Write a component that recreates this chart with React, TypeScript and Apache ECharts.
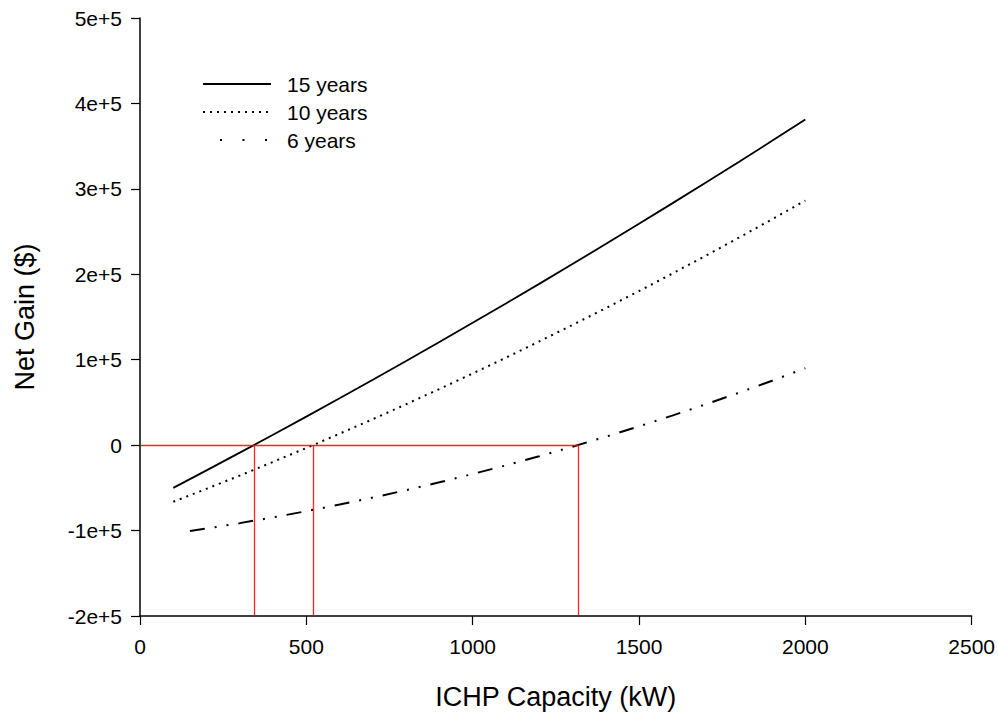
import React, { useEffect, useRef } from "react";
import * as echarts from "echarts";

const capacity = [100, 200, 300, 400, 500, 600, 700, 800, 900, 1000, 1100, 1200, 1300, 1400, 1500, 1600, 1700, 1800, 1900, 2000];
const gain15 = [-50000, -29500, -8800, 12200, 33400, 54900, 76600, 98600, 120800, 143200, 165900, 188800, 212000, 235400, 259100, 283000, 307100, 331500, 356200, 381100];
const gain10 = [-66300, -51100, -35600, -19600, -3300, 13400, 30400, 47900, 65700, 83900, 102400, 121400, 140700, 160300, 180400, 200800, 221600, 242800, 264400, 286300];
const capacity6 = [150, 200, 300, 400, 500, 600, 700, 800, 900, 1000, 1100, 1200, 1300, 1400, 1500, 1600, 1700, 1800, 1900, 2000];
const gain6 = [-100500, -97600, -91300, -84600, -77300, -69600, -61400, -52700, -43500, -33800, -23700, -13000, -1800, 9800, 22000, 34600, 47700, 61300, 75400, 90000];
const breakEven = [342, 520, 1316];
const seriesNames = ["15 years", "10 years", "6 years"];

const FONT = "Liberation Sans, Arial, Helvetica, sans-serif";

export default function App() {
  const ref = useRef<HTMLDivElement>(null);
  useEffect(() => {
    if (!ref.current) return;
    const chart = echarts.init(ref.current, null, { renderer: "svg" });
    const yMin = -200000;
    const red = "#ff0000";
    const markData: any[] = breakEven.map((x) => [
      { coord: [x, yMin] },
      { coord: [x, 0] },
    ]);
    markData.push([{ coord: [0, 0] }, { coord: [breakEven[breakEven.length - 1], 0] }]);

    const legendLeft = 203;
    const legendTop = 69;
    const sampleTop = 84;
    const rowH = 28;
    const sampleStyles = [
      { lineDash: null as any, x1: 203, x2: 271, lineWidth: 1.8 },
      { lineDash: [2, 5], x1: 203, x2: 271, lineWidth: 2 },
      { lineDash: [2, 20.5], x1: 220, x2: 268, lineWidth: 2 },
    ];
    const legendSamples = sampleStyles.map((s, i) => ({
      type: "line",
      silent: true,
      shape: { x1: s.x1, y1: sampleTop + i * rowH, x2: s.x2, y2: sampleTop + i * rowH },
      style: { stroke: "#000", lineWidth: s.lineWidth, lineDash: s.lineDash },
      z: 10,
    }));

    chart.setOption({
      animation: false,
      backgroundColor: "#ffffff",
      textStyle: { fontFamily: FONT },
      grid: { left: 140, right: 26, top: 18, bottom: 98 },
      legend: {
        orient: "vertical",
        left: legendLeft,
        top: legendTop,
        itemWidth: 68,
        itemHeight: 21,
        itemGap: 7,
        data: seriesNames,
        itemStyle: { opacity: 0 },
        lineStyle: { opacity: 0 },
        textStyle: { fontSize: 21, color: "#000", fontFamily: FONT, padding: [0, 0, 0, 5] },
      },
      graphic: legendSamples,
      xAxis: {
        type: "value",
        min: 0,
        max: 2500,
        interval: 500,
        name: "ICHP Capacity (kW)",
        nameLocation: "middle",
        nameGap: 67,
        nameTextStyle: { fontSize: 27, color: "#000", fontFamily: FONT },
        axisLine: { show: true, onZero: false, lineStyle: { color: "#000", width: 1.5 } },
        axisTick: { show: true, inside: false, length: 9, lineStyle: { color: "#000", width: 1.2 } },
        axisLabel: {
          fontSize: 21,
          color: "#000",
          margin: 20,
          fontFamily: FONT,
          formatter: (v: number) => String(v),
        },
        splitLine: { show: false },
      },
      yAxis: {
        type: "value",
        min: yMin,
        max: 500000,
        interval: 100000,
        name: "Net Gain ($)",
        nameLocation: "middle",
        nameGap: 102,
        nameRotate: 90,
        nameTextStyle: { fontSize: 27, color: "#000", fontFamily: FONT },
        axisLine: { show: true, onZero: false, lineStyle: { color: "#000", width: 1.5 } },
        axisTick: { show: true, inside: false, length: 9, lineStyle: { color: "#000", width: 1.2 } },
        axisLabel: {
          fontSize: 21,
          color: "#000",
          margin: 18,
          fontFamily: FONT,
          formatter: (v: number) => (v === 0 ? "0" : `${v / 100000}e+5`),
        },
        splitLine: { show: false },
      },
      series: [
        {
          name: "break-even",
          type: "line",
          data: [],
          silent: true,
          z: 1,
          markLine: {
            silent: true,
            symbol: ["none", "none"],
            label: { show: false },
            emphasis: { disabled: true },
            lineStyle: { color: red, width: 1.3, type: "solid", opacity: 0.85 },
            data: markData,
          },
        },
        {
          name: seriesNames[0],
          type: "line",
          symbol: "none",
          color: "#000",
          z: 3,
          lineStyle: { color: "#000", width: 1.8, type: "solid" },
          data: capacity.map((x, i) => [x, gain15[i]]),
        },
        {
          name: seriesNames[1],
          type: "line",
          symbol: "none",
          color: "#000",
          z: 3,
          lineStyle: { color: "#000", width: 2, type: [2, 5] },
          data: capacity.map((x, i) => [x, gain10[i]]),
        },
        {
          name: seriesNames[2],
          type: "line",
          symbol: "none",
          color: "#000",
          z: 3,
          lineStyle: { color: "#000", width: 2, type: [15, 10, 2, 10, 2, 10] },
          data: capacity6.map((x, i) => [x, gain6[i]]),
        },
      ],
    });
    return () => chart.dispose();
  }, []);
  return <div ref={ref} style={{ width: 998, height: 715, position: "absolute", left: 0, top: 0 }} />;
}
